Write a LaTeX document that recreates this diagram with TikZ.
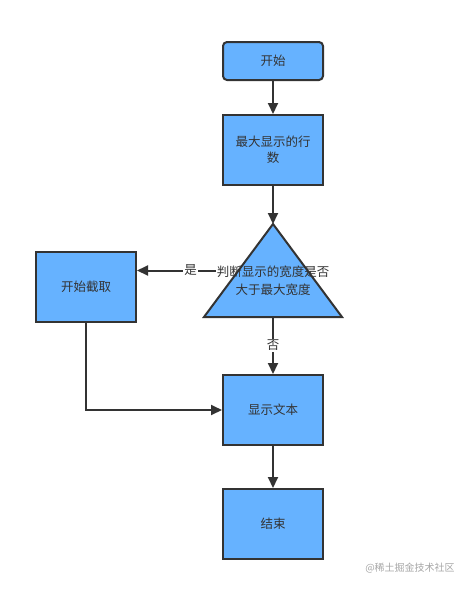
\documentclass[tikz,border=0pt]{standalone}
\usepackage{fontspec}
\setmainfont{Noto Sans CJK SC}
\usetikzlibrary{arrows.meta}
\definecolor{boxfill}{HTML}{66B2FF}
\definecolor{edge}{HTML}{333333}
\tikzset{
  stepbox/.style={draw=edge, fill=boxfill, line width=2pt, minimum width=100pt, minimum height=70pt, inner sep=0pt, text=edge, font=\fontsize{12.5}{16}\selectfont, align=center},
  conn/.style={draw=edge, line width=2pt, -{Triangle[length=11pt,width=10pt]}},
  lbl/.style={fill=white, text=edge, inner sep=1pt, font=\fontsize{12.5}{14}\selectfont}
}
\begin{document}
\begin{tikzpicture}[x=1pt,y=-1pt]
\useasboundingbox (0,0) rectangle (472,590);
\node[stepbox, rounded corners=4pt, minimum height=38pt] (start) at (273,61) {开始};
\node[stepbox, text width=90pt] (rows) at (273,150) {最大显示的行\\数};
% decision triangle
\coordinate (apex) at (273,224);
\coordinate (bl) at (204,317);
\coordinate (br) at (342,317);
\coordinate (base) at (273,317);
\coordinate (dleft) at (216,270.5);
\filldraw[draw=edge, fill=boxfill, line width=2pt, line join=miter] (apex) -- (br) -- (bl) -- cycle;
\node[stepbox] (cut) at (86,287) {开始截取};
\node[stepbox] (show) at (273,410) {显示文本};
\node[stepbox] (end) at (273,524) {结束};
\draw[conn] (start.south) -- (rows.north);
\draw[conn] (rows.south) -- (apex);
\draw[conn] (dleft) -- node[lbl, pos=0.32] (yes) {是} (cut.east |- dleft);
\node[text=edge, align=center, font=\fontsize{12.5}{18}\selectfont] (cond) at (273,281) {判断显示的宽度是否\\大于最大宽度};
\draw[conn] (base) -- node[lbl, pos=0.5] (no) {否} (show.north);
\draw[conn] (cut.south) |- (show.west);
\draw[conn] (show.south) -- (end.north);
\node[text=black!35, font=\fontsize{10}{11}\selectfont] (wm) at (410,568) {@稀土掘金技术社区};
\end{tikzpicture}
\end{document}
